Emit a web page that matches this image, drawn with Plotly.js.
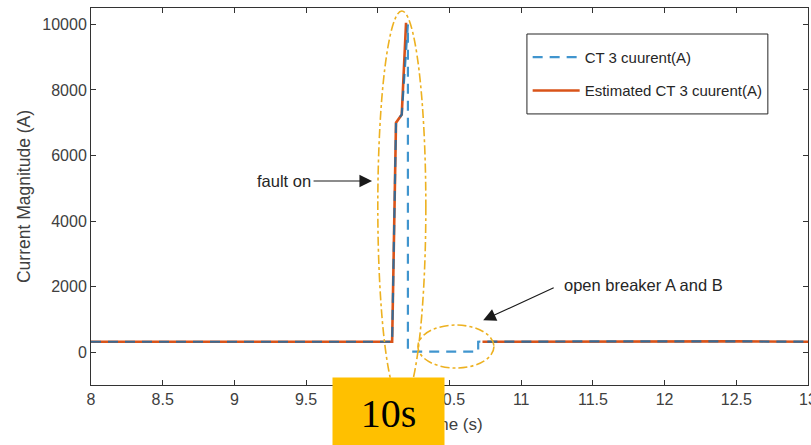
<!DOCTYPE html>
<html>
<head>
<meta charset="utf-8">
<script src="https://cdn.plot.ly/plotly-3.0.1.min.js"></script>
<style>html,body{margin:0;padding:0;background:#fff;}#chart{width:811px;height:445px;}</style>
</head>
<body>
<div id="chart"></div>
<script>
// ---- data ----
var measuredTime    = [8, 9.0, 10.10, 10.127, 10.167, 10.21, 10.21, 10.70, 10.70, 11.5, 12.0, 12.5, 13];
var measuredCurrent = [320, 320, 320, 7000, 7250, 10000, 20, 20, 320, 330, 340, 330, 320];
var estimatedTime    = [8, 9.0, 10.10, 10.127, 10.167, 10.197, 10.20, 10.73, 11.5, 12.0, 12.5, 13];
var estimatedCurrent = [320, 320, 320, 7000, 7250, 10050, null, 320, 330, 340, 330, 320];
var seriesNames = ["CT 3 cuurent(A)", "Estimated CT 3 cuurent(A)"];
var xTickVals = [8, 8.5, 9, 9.5, 10, 10.5, 11, 11.5, 12, 12.5, 13];
var xTickText = ["8", "8.5", "9", "9.5", "10", "10.5", "11", "11.5", "12", "12.5", "13"];
var yTickVals = [0, 2000, 4000, 6000, 8000, 10000];
var yTickText = ["0", "2000", "4000", "6000", "8000", "10000"];
var xTitle = "Time (s)";
var yTitle = "Current Magnitude (A)";
var noteFault = "fault on";
var noteBreaker = "open breaker A and B";
var badgeText = "10s";

var FONT = "Liberation Sans, Arial, sans-serif";
var TXT = "#404040";

var traces = [
  {
    x: estimatedTime, y: estimatedCurrent, name: seriesNames[1],
    type: "scatter", mode: "lines", connectgaps: false,
    line: {color: "#D95319", width: 2.6},
    legendgroup: "b", legendrank: 2
  },
  {
    x: measuredTime, y: measuredCurrent, name: seriesNames[0],
    type: "scatter", mode: "lines", opacity: 0.75,
    line: {color: "#0072BD", width: 2.2, dash: "10px,7px"},
    legendgroup: "a", legendrank: 1
  }
];

var ellipseStyle = {color: "#EDB120", width: 1.6, dash: "dashdot"};

var layout = {
  width: 811, height: 445,
  margin: {l: 91, r: 3, t: 8, b: 60, pad: 0},
  paper_bgcolor: "#fff", plot_bgcolor: "#fff",
  font: {family: FONT, size: 16, color: TXT},
  showlegend: true,
  legend: {
    x: 0.609, y: 0.913, xanchor: "left", yanchor: "top",
    bgcolor: "rgba(0,0,0,0)", borderwidth: 0,
    font: {family: FONT, size: 15, color: "#262626"},
    itemwidth: 47, traceorder: "grouped", tracegroupgap: 11
  },
  xaxis: {
    range: [8, 13], tickmode: "array", tickvals: xTickVals, ticktext: xTickText,
    ticks: "inside", ticklen: 5, tickcolor: "#333", tickwidth: 1,
    showline: true, linecolor: "#333", linewidth: 1, mirror: "ticks",
    showgrid: false, zeroline: false, ticklabeloverflow: "allow",
    tickfont: {family: FONT, size: 16, color: TXT}
  },
  yaxis: {
    range: [-1000, 10500], tickmode: "array", tickvals: yTickVals, ticktext: yTickText,
    ticks: "inside", ticklen: 5, tickcolor: "#333", tickwidth: 1,
    showline: true, linecolor: "#333", linewidth: 1, mirror: "ticks",
    showgrid: false, zeroline: false,
    tickfont: {family: FONT, size: 16, color: TXT},
    title: {text: yTitle, standoff: 7, font: {family: FONT, size: 17.5, color: TXT}}
  },
  shapes: [
    {type: "rect", xref: "paper", yref: "paper", layer: "above",
     x0: 0.608, x1: 0.944, y0: 0.719, y1: 0.931,
     fillcolor: "#fff", line: {color: "#262626", width: 1}},
    {type: "circle", xref: "paper", yref: "paper", layer: "above",
     x0: 0.400, x1: 0.467, y0: -0.045, y1: 0.992, line: ellipseStyle},
    {type: "circle", xref: "paper", yref: "paper", layer: "above",
     x0: 0.456, x1: 0.562, y0: 0.045, y1: 0.159, line: ellipseStyle}
  ],
  annotations: [
    {text: xTitle, xref: "paper", yref: "paper", x: 0.504, y: -0.106,
     xanchor: "center", yanchor: "middle", showarrow: false,
     font: {family: FONT, size: 17, color: TXT}},
    {text: noteFault, xref: "paper", yref: "paper", x: 0.310, y: 0.541,
     xanchor: "right", yanchor: "middle", showarrow: false,
     font: {family: FONT, size: 16.5, color: "#262626"}},
    {text: "", xref: "paper", yref: "paper", x: 0.392, y: 0.541,
     showarrow: true, ax: -60, ay: 0, arrowhead: 2, arrowsize: 2.3, arrowwidth: 1.1,
     arrowcolor: "#1a1a1a"},
    {text: noteBreaker, xref: "paper", yref: "paper", x: 0.657, y: 0.265,
     xanchor: "left", yanchor: "middle", showarrow: false,
     font: {family: FONT, size: 16.5, color: "#262626"}},
    {text: "", xref: "paper", yref: "paper", x: 0.547, y: 0.172,
     showarrow: true, ax: 72, ay: -33, arrowhead: 2, arrowsize: 2.3, arrowwidth: 1.1,
     arrowcolor: "#1a1a1a"},
    {text: badgeText, xref: "paper", yref: "paper", x: 0.4156, y: -0.074,
     xanchor: "center", yanchor: "middle", showarrow: false,
     width: 111, height: 70, bgcolor: "#FFC000", borderpad: 0,
     font: {family: "Liberation Serif, Times New Roman, serif", size: 40, color: "#000"}}
  ]
};

Plotly.newPlot("chart", traces, layout, {staticPlot: true, displayModeBar: false});
</script>
</body>
</html>
